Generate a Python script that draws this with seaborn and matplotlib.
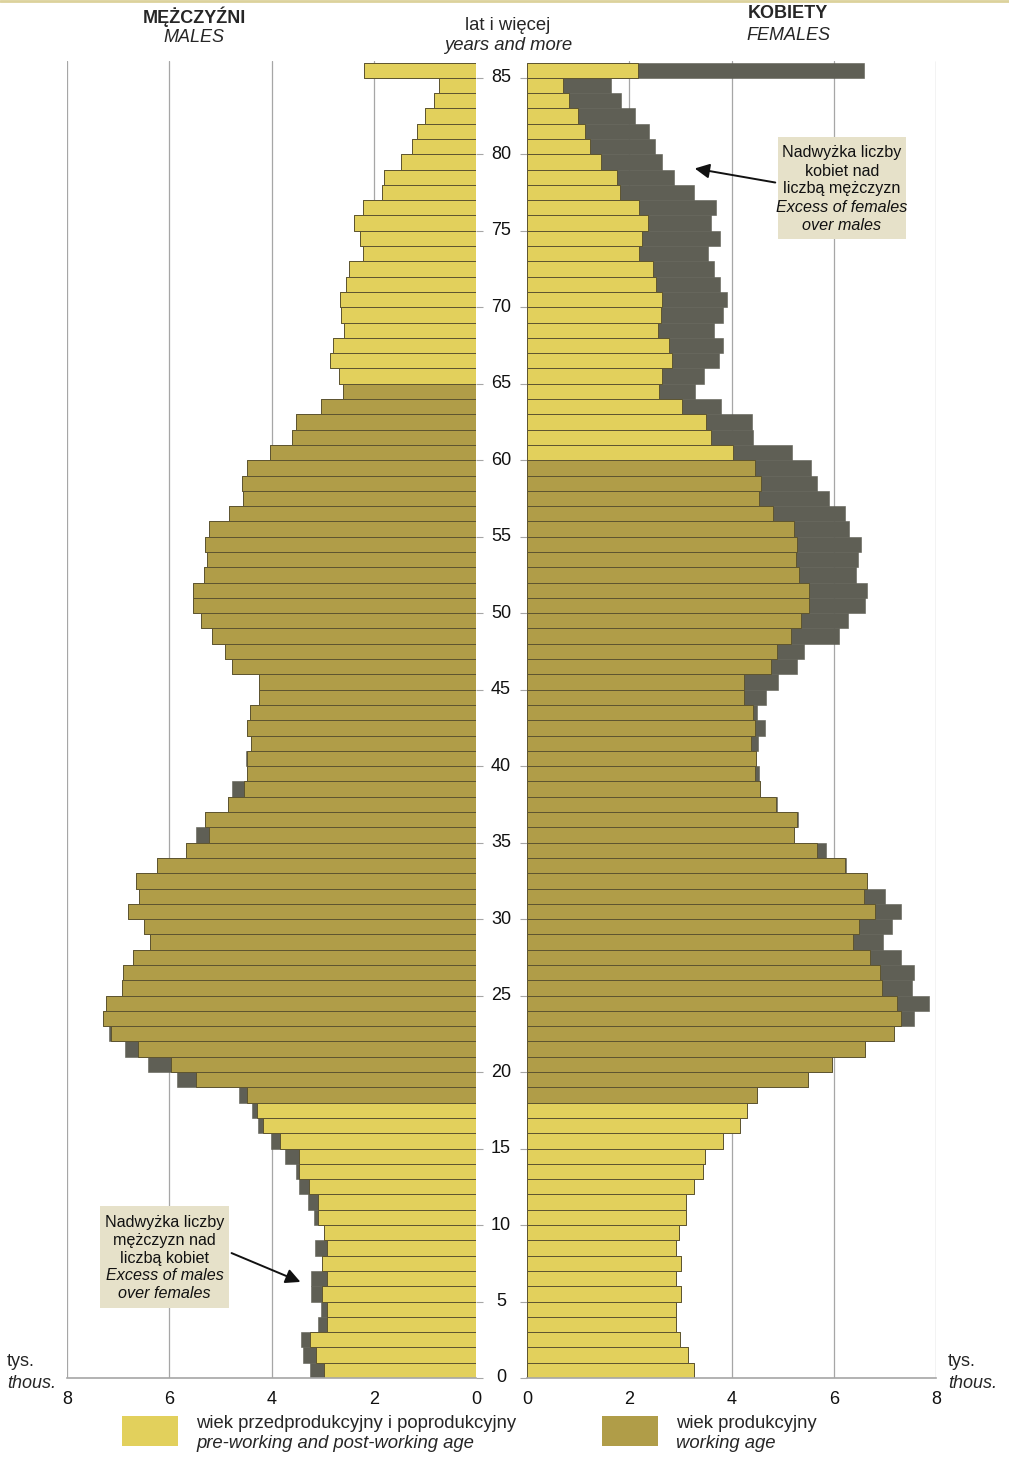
import pandas as pd
import matplotlib.pyplot as plt
import seaborn as sns
from matplotlib.patches import Rectangle, FancyArrowPatch

# wiek 0..85 (85 = 85 lat i więcej), tys. osób
ages = list(range(86))

# mężczyźni: część kolorowa i długość całego słupka (z nadwyżką mężczyzn)
male_base = [2.97, 3.13, 3.25, 2.91, 2.91, 3.01, 2.91, 3.01, 2.91, 2.97,
             3.10, 3.10, 3.26, 3.46, 3.47, 3.83, 4.16, 4.29, 4.47, 5.48,
             5.96, 6.61, 7.14, 7.30, 7.24, 6.92, 6.90, 6.71, 6.38, 6.49,
             6.81, 6.60, 6.66, 6.23, 5.68, 5.23, 5.30, 4.86, 4.54, 4.47,
             4.47, 4.40, 4.47, 4.43, 4.24, 4.24, 4.78, 4.91, 5.17, 5.37,
             5.53, 5.53, 5.33, 5.27, 5.30, 5.23, 4.83, 4.56, 4.58, 4.47,
             4.02, 3.60, 3.52, 3.04, 2.61, 2.67, 2.85, 2.79, 2.58, 2.64,
             2.66, 2.54, 2.48, 2.22, 2.26, 2.39, 2.22, 1.83, 1.79, 1.47,
             1.26, 1.16, 1.00, 0.83, 0.72, 2.20]
male_total = [3.25, 3.39, 3.43, 3.10, 3.04, 3.23, 3.23, 3.01, 3.14, 2.97,
              3.16, 3.29, 3.46, 3.52, 3.73, 4.01, 4.27, 4.39, 4.64, 5.84,
              6.42, 6.86, 7.18, 7.30, 7.24, 6.92, 6.90, 6.71, 6.38, 6.49,
              6.81, 6.60, 6.66, 6.23, 5.68, 5.47, 5.30, 4.86, 4.78, 4.47,
              4.49, 4.40, 4.47, 4.43, 4.24, 4.24, 4.78, 4.91, 5.17, 5.37,
              5.53, 5.53, 5.33, 5.27, 5.30, 5.23, 4.83, 4.56, 4.58, 4.47,
              4.02, 3.60, 3.52, 3.04, 2.61, 2.67, 2.85, 2.79, 2.58, 2.64,
              2.66, 2.54, 2.48, 2.22, 2.26, 2.39, 2.22, 1.83, 1.79, 1.47,
              1.26, 1.16, 1.00, 0.83, 0.72, 2.20]

# kobiety: część kolorowa i długość całego słupka (z nadwyżką kobiet)
female_base = [3.27, 3.14, 2.99, 2.92, 2.92, 3.02, 2.92, 3.01, 2.92, 2.98,
               3.11, 3.11, 3.27, 3.45, 3.49, 3.84, 4.17, 4.30, 4.49, 5.49,
               5.96, 6.62, 7.18, 7.31, 7.24, 6.94, 6.91, 6.71, 6.37, 6.49,
               6.81, 6.60, 6.65, 6.22, 5.67, 5.23, 5.29, 4.87, 4.55, 4.45,
               4.48, 4.39, 4.45, 4.42, 4.24, 4.24, 4.77, 4.89, 5.16, 5.36,
               5.52, 5.52, 5.33, 5.27, 5.29, 5.23, 4.82, 4.54, 4.58, 4.45,
               4.02, 3.60, 3.51, 3.03, 2.59, 2.65, 2.84, 2.77, 2.56, 2.63,
               2.65, 2.52, 2.46, 2.20, 2.25, 2.37, 2.20, 1.81, 1.76, 1.45,
               1.24, 1.14, 0.99, 0.83, 0.70, 2.18]
female_total = [3.27, 3.14, 2.99, 2.92, 2.92, 3.02, 2.92, 3.01, 2.92, 2.98,
                3.11, 3.11, 3.27, 3.45, 3.49, 3.84, 4.17, 4.30, 4.49, 5.49,
                5.96, 6.62, 7.18, 7.57, 7.86, 7.54, 7.56, 7.31, 6.96, 7.13,
                7.31, 7.00, 6.65, 6.24, 5.84, 5.23, 5.30, 4.89, 4.55, 4.54,
                4.48, 4.52, 4.65, 4.49, 4.67, 4.90, 5.28, 5.42, 6.11, 6.28,
                6.62, 6.66, 6.43, 6.47, 6.53, 6.30, 6.22, 5.91, 5.68, 5.55,
                5.18, 4.43, 4.40, 3.79, 3.28, 3.47, 3.76, 3.83, 3.66, 3.83,
                3.91, 3.78, 3.66, 3.54, 3.78, 3.60, 3.70, 3.26, 2.88, 2.64,
                2.51, 2.38, 2.12, 1.84, 1.65, 6.60]

YELLOW = "#e2d05c"
OLIVE = "#b09d48"
DARK = "#5f5f55"
EDGE = "#5d5430"
GRID = "#a6a6a6"

sns.set_style("white")
plt.rcParams["font.family"] = ["Liberation Sans", "DejaVu Sans"]

df = pd.DataFrame({"age": ages, "mb": male_base, "mt": male_total,
                   "fb": female_base, "ft": female_total})
df["pos"] = df["age"] + 0.5
df["m_grp"] = ["work" if 18 <= a <= 64 else "other" for a in ages]
df["f_grp"] = ["work" if 18 <= a <= 59 else "other" for a in ages]
pal = {"work": OLIVE, "other": YELLOW}

W, H = 1009, 1457
fig = plt.figure(figsize=(W / 100, H / 100), dpi=100)


def fx(x):
    return x / W


def fy(y):
    return 1 - y / H


axl = fig.add_axes([fx(67), fy(1378), fx(476) - fx(67), fy(61) - fy(1378)])
axr = fig.add_axes([fx(527), fy(1378), fx(936) - fx(527), fy(61) - fy(1378)])

for ax, tot, base, grp in [(axl, "mt", "mb", "m_grp"), (axr, "ft", "fb", "f_grp")]:
    for g in [2, 4, 6, 8]:
        ax.axvline(g, color=GRID, lw=0.9, zorder=0)
    sns.barplot(data=df, x=tot, y="pos", orient="h", native_scale=True,
                color=DARK, width=1.0, errorbar=None, ax=ax,
                edgecolor=DARK, linewidth=0.4, saturation=1)
    sns.barplot(data=df, x=base, y="pos", hue=grp, palette=pal, orient="h",
                native_scale=True, dodge=False, width=1.0, errorbar=None,
                legend=False, ax=ax, edgecolor=EDGE, linewidth=0.7, saturation=1)
    ax.set_xlim(0, 8)
    ax.set_ylim(0, 86.1)
    ax.set_xlabel("")
    ax.set_ylabel("")
    ax.set_xticks([0, 2, 4, 6, 8])
    ax.set_xticklabels(["0", "2", "4", "6", "8"])
    ax.set_yticks(range(0, 86, 5))
    ax.tick_params(axis="x", length=4, color=GRID, labelsize=13, pad=5,
                   labelcolor="#111111")
    ax.tick_params(axis="y", length=5, color=GRID, labelleft=False,
                   labelright=False)
    for s in ["top", "left", "right"]:
        ax.spines[s].set_visible(False)
    ax.spines["bottom"].set_color(GRID)
    ax.spines["bottom"].set_linewidth(1.2)

axl.invert_xaxis()
axl.yaxis.tick_right()
axr.yaxis.tick_left()

# etykiety wieku pośrodku
for a in range(0, 86, 5):
    axl.text((501 - 67) / 409, a, str(a), transform=axl.get_yaxis_transform(),
             ha="center", va="center", fontsize=13, color="#111111")

# nagłówki
fig.text(fx(194), fy(17), "MĘŻCZYŹNI", ha="center", va="center",
         fontsize=13, fontweight="bold")
fig.text(fx(194), fy(38), "MALES", ha="center", va="center",
         fontsize=13, style="italic")
fig.text(fx(508), fy(26), "lat i więcej", ha="center", va="center", fontsize=13.3)
fig.text(fx(508), fy(46), "years and more", ha="center", va="center",
         fontsize=13.3, style="italic")
fig.text(fx(788), fy(14), "KOBIETY", ha="center", va="center",
         fontsize=13, fontweight="bold")
fig.text(fx(788), fy(35), "FEMALES", ha="center", va="center",
         fontsize=13, style="italic")

for x0 in [7, 948]:
    fig.text(fx(x0), fy(1362), "tys.", ha="left", va="center", fontsize=13)
    fig.text(fx(x0), fy(1383), "thous.", ha="left", va="center",
             fontsize=13, style="italic")

fig.add_artist(plt.Line2D([0, 1], [fy(1), fy(1)], color="#dcd29c", lw=2))


# ramki z opisami nadwyżek
def note(x0, y0, x1, y1, lines):
    fig.add_artist(Rectangle((fx(x0), fy(y1)), fx(x1) - fx(x0), fy(y0) - fy(y1),
                             transform=fig.transFigure, facecolor="#e6e1c9",
                             edgecolor="none"))
    cx = (x0 + x1) / 2
    for i, (txt, it) in enumerate(lines):
        fig.text(fx(cx), fy(y0 + 16 + 18 * i), txt, ha="center", va="center",
                 fontsize=11.6, style="italic" if it else "normal", color="#111111")


note(778, 137, 906, 239, [("Nadwyżka liczby", False), ("kobiet nad", False),
                          ("liczbą mężczyzn", False), ("Excess of females", True),
                          ("over males", True)])
note(100, 1206, 229, 1308, [("Nadwyżka liczby", False), ("mężczyzn nad", False),
                            ("liczbą kobiet", False), ("Excess of males", True),
                            ("over females", True)])

for (x0, y0), (x1, y1) in [((778, 183), (692, 168)), ((229, 1252), (303, 1283))]:
    fig.add_artist(FancyArrowPatch((fx(x0), fy(y0)), (fx(x1), fy(y1)),
                                   transform=fig.transFigure, arrowstyle="-|>",
                                   mutation_scale=22, color="#111111", lw=1.4))

# legenda
for x0, col, l1, l2 in [(122, YELLOW, "wiek przedprodukcyjny i poprodukcyjny",
                         "pre-working and post-working age"),
                        (602, OLIVE, "wiek produkcyjny", "working age")]:
    fig.add_artist(Rectangle((fx(x0), fy(1446)), fx(56), fy(1416) - fy(1446),
                             transform=fig.transFigure, facecolor=col,
                             edgecolor="none"))
    fig.text(fx(x0 + 74), fy(1423), l1, ha="left", va="center", fontsize=13.3)
    fig.text(fx(x0 + 74), fy(1444), l2, ha="left", va="center", fontsize=13.3,
             style="italic")

fig.savefig("out.png", dpi=100)
